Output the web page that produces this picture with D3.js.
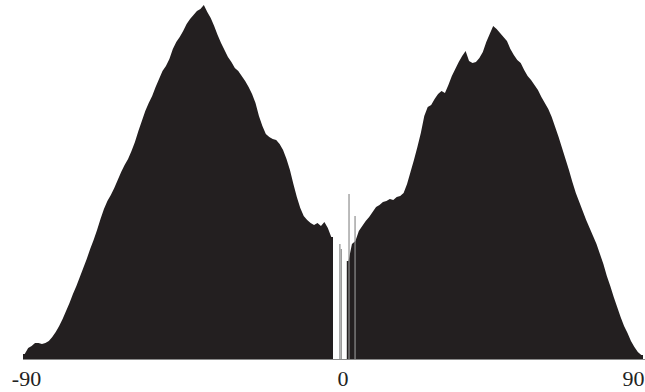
<!DOCTYPE html>
<html><head><meta charset="utf-8">
<script src="https://cdn.jsdelivr.net/npm/d3@7"></script>
<style>html,body{margin:0;padding:0;background:#fff;overflow:hidden}</style>
</head><body><svg id="c" width="645" height="392"></svg>
<script>
// 1-degree bins from -90 to 0
const leftCounts = [
  5,11,13,16,16,15,16,18,22,27,
  33,40,48,56,65,73,82,91,100,110,
  119,129,140,150,158,164,171,179,187,194,
  200,208,217,228,238,248,256,263,272,280,
  288,293,300,310,317,322,328,335,340,344,
  348,350,354,347,341,333,324,316,309,302,
  297,291,288,283,278,272,265,256,243,233,
  225,222,220,219,215,209,200,189,175,162,
  151,143,139,136,134,136,133,137,131,122];
// 1-degree bins from 0 to 90
const rightCounts = [
  0,0,0,0,98,115,118,128,133,138,
  142,147,152,154,157,158,160,159,162,163,
  166,175,187,199,212,226,243,252,254,260,
  265,268,266,274,283,290,297,303,308,298,
  296,297,301,307,317,325,333,330,326,322,
  318,310,304,299,296,289,283,279,274,269,
  262,256,250,242,232,222,211,200,189,177,
  166,157,148,139,131,123,115,105,95,83,
  73,62,52,42,33,26,18,12,7,4];
// thin isolated spikes near zero
const spikeAngles = [2.0, 2.4, 4.65, 6.4];
const spikeCounts = [115, 110, 165, 143];
const tickValues = [-90, 0, 90];
const tickLabels = ["-90", "0", "90"];

const counts = leftCounts.concat(rightCounts);
const bins = counts.map((c, i) => ({x0: -90 + i, x1: -89 + i, c}));

const svg = d3.select("#c");
const x = d3.scaleLinear().domain([-90, 90]).range([23, 643]);
const y = d3.scaleLinear().domain([0, 358]).range([359, 1]);

// histogram outline through bin centres, with square ends at gaps
const pts = [];
bins.forEach((b, i) => {
  if (b.c <= 0) { pts.push({def: false}); return; }
  const prev = bins[i - 1], next = bins[i + 1];
  if (!prev || prev.c <= 0) pts.push({x: b.x0, c: b.c, def: true});
  pts.push({x: (b.x0 + b.x1) / 2, c: b.c, def: true});
  if (!next || next.c <= 0) pts.push({x: b.x1, c: b.c, def: true});
});
const area = d3.area()
  .defined(d => d.def)
  .x(d => x(d.x)).y0(y(0)).y1(d => y(d.c));
svg.append("path").datum(pts).attr("d", area).attr("fill", "#231f20");

// spikes
svg.append("g").selectAll("rect").data(spikeAngles).join("rect")
  .attr("x", d => x(d) - 0.6).attr("width", 1.2)
  .attr("y", (d, i) => y(spikeCounts[i]))
  .attr("height", (d, i) => y(0) - y(spikeCounts[i]))
  .attr("fill", "#8e8e8e");

// axis
const ax = svg.append("g").attr("transform", "translate(0,359)")
  .call(d3.axisBottom(x).tickValues(tickValues)
    .tickFormat((d, i) => tickLabels[i]).tickSize(0).tickSizeOuter(0));
ax.select(".domain").attr("stroke", "#8a8a8a").attr("d", "M23,0.5H645");
const dxs = [3, 9.5, -10];
ax.selectAll(".tick text")
  .attr("y", 11)
  .attr("x", (d, i) => dxs[i])
  .attr("font-family", "'Liberation Serif', 'Times New Roman', serif")
  .attr("font-size", 22)
  .attr("fill", "#222");
</script></body></html>
